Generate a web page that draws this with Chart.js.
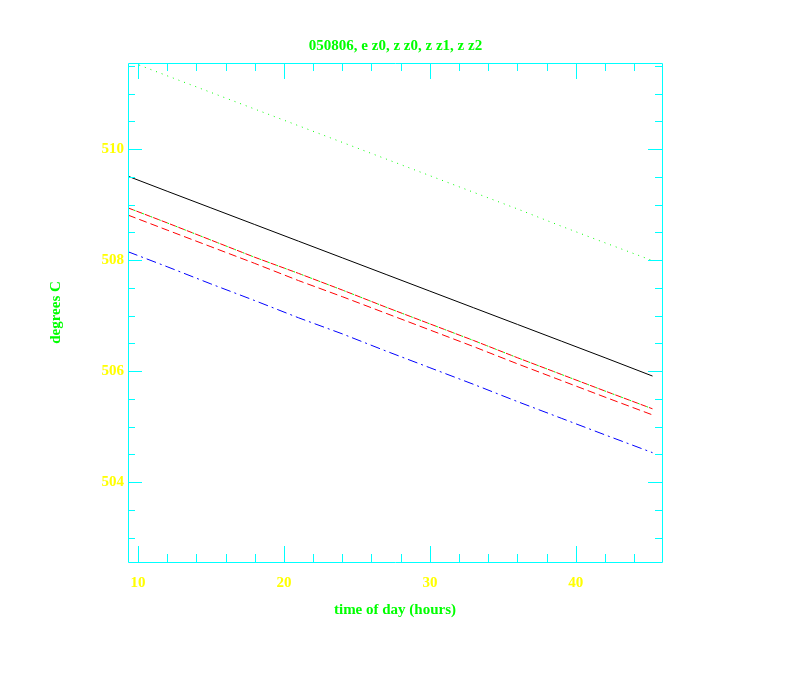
<!DOCTYPE html>
<html>
<head>
<meta charset="utf-8">
<script src="https://cdn.jsdelivr.net/npm/chart.js@4.4.1/dist/chart.umd.min.js"></script>
<style>
  html, body { margin: 0; padding: 0; background: #fff; }
  #wrap { width: 792px; height: 684px; }
</style>
</head>
<body>
<div id="wrap"><canvas id="c" width="792" height="684"></canvas></div>
<script>
// sample times (hours)
const times = [9.32, 12, 15, 18, 21, 24, 27, 30, 33, 36, 39, 42, 45.25];

// series values, degrees C
const greenTop = [511.59, 511.32, 511.02, 510.72, 510.42, 510.12, 509.82, 509.52, 509.22, 508.92, 508.61, 508.31, 507.99];
const blackLine = [509.51, 509.24, 508.94, 508.64, 508.34, 508.04, 507.74, 507.44, 507.14, 506.84, 506.54, 506.24, 505.91];
const upperLine = [508.94, 508.67, 508.36, 508.05, 507.76, 507.46, 507.15, 506.85, 506.55, 506.24, 505.94, 505.64, 505.32];
const lowerRed = [508.81, 508.54, 508.24, 507.94, 507.63, 507.34, 507.04, 506.74, 506.44, 506.13, 505.83, 505.53, 505.21];
const blueLine = [508.15, 507.88, 507.57, 507.27, 506.96, 506.67, 506.36, 506.06, 505.76, 505.45, 505.15, 504.85, 504.53];

// axis ticks
const xLabels = [10, 20, 30, 40];
const xMinor = [12, 14, 16, 18, 22, 24, 26, 28, 32, 34, 36, 38, 42, 44];
const yLabels = [504, 506, 508, 510];
const yMinor = [503, 503.5, 504.5, 505, 505.5, 506.5, 507, 507.5, 508.5, 509, 509.5, 510.5, 511, 511.5];

const FONT = { family: '"Liberation Serif", "DejaVu Serif", serif', size: 15, weight: 'bold' };

const pts = ys => times.map((t, i) => ({ x: t, y: ys[i] }));

function line(ys, color, dash, offset = 0) {
  return {
    data: pts(ys),
    borderColor: color,
    borderWidth: 1,
    borderDash: dash,
    borderDashOffset: offset,
    pointRadius: 0,
    fill: false,
    tension: 0
  };
}

// cyan frame with inward ticks on all four sides
const frame = {
  id: 'frame',
  afterDraw(chart) {
    const { ctx, chartArea: a, scales: { x, y } } = chart;
    ctx.save();
    ctx.strokeStyle = '#00ffff';
    ctx.lineWidth = 1;
    ctx.beginPath();
    ctx.rect(Math.round(a.left) + 0.5, Math.round(a.top) + 0.5, Math.round(a.right - a.left), Math.round(a.bottom - a.top));
    const vt = (v, len) => {
      const px = Math.round(x.getPixelForValue(v)) + 0.5;
      ctx.moveTo(px, a.bottom); ctx.lineTo(px, a.bottom - len);
      ctx.moveTo(px, a.top); ctx.lineTo(px, a.top + len);
    };
    const ht = (v, len) => {
      const py = Math.round(y.getPixelForValue(v)) + 0.5;
      ctx.moveTo(a.left, py); ctx.lineTo(a.left + len, py);
      ctx.moveTo(a.right, py); ctx.lineTo(a.right - len, py);
    };
    xLabels.forEach(v => vt(v, 16));
    xMinor.forEach(v => vt(v, 8));
    yLabels.forEach(v => ht(v, 14));
    yMinor.forEach(v => ht(v, 7));
    ctx.stroke();
    ctx.restore();
  }
};

new Chart(document.getElementById('c'), {
  type: 'line',
  data: {
    datasets: [
      line(greenTop, '#00ff00', [1, 5]),
      line(blackLine, '#000000', []),
      line(upperLine, '#ff0000', [6, 3]),
      line(upperLine, '#00ff00', [2, 7], -6),
      line(lowerRed, '#ff0000', [8, 4]),
      line(blueLine, '#0000ff', [10, 4, 2, 4])
    ]
  },
  options: {
    responsive: false,
    animation: false,
    layout: { padding: { left: 47, right: 48, top: 0, bottom: 65 } },
    plugins: {
      legend: { display: false },
      tooltip: { enabled: false },
      title: {
        display: true,
        text: '050806, e z0, z z0, z z1, z z2',
        color: '#00ff00',
        font: FONT,
        padding: { top: 37, bottom: 8 }
      }
    },
    scales: {
      x: {
        type: 'linear',
        min: 9.32,
        max: 45.9,
        grid: { display: false, drawTicks: false },
        border: { display: false },
        afterBuildTicks: s => { s.ticks = xLabels.map(v => ({ value: v })); },
        afterFit: s => { s.height = 57; },
        ticks: { color: '#ffff00', font: FONT, padding: 12, maxRotation: 0 },
        title: { display: true, text: 'time of day (hours)', color: '#00ff00', font: FONT, padding: 0 }
      },
      y: {
        type: 'linear',
        min: 502.56,
        max: 511.55,
        grid: { display: false, drawTicks: false },
        border: { display: false },
        afterBuildTicks: s => { s.ticks = yLabels.map(v => ({ value: v })); },
        afterFit: s => { s.width = 81; },
        ticks: { color: '#ffff00', font: FONT, padding: 4 },
        title: { display: true, text: 'degrees C', color: '#00ff00', font: FONT, padding: 0 }
      },
      // empty right axis, only reserves room so the title centres over the plot
      y2: {
        position: 'right',
        min: 502.56,
        max: 511.55,
        grid: { display: false, drawTicks: false },
        border: { display: false },
        ticks: { display: false },
        afterFit: s => { s.width = 82; }
      }
    }
  },
  plugins: [frame]
});
</script>
</body>
</html>
